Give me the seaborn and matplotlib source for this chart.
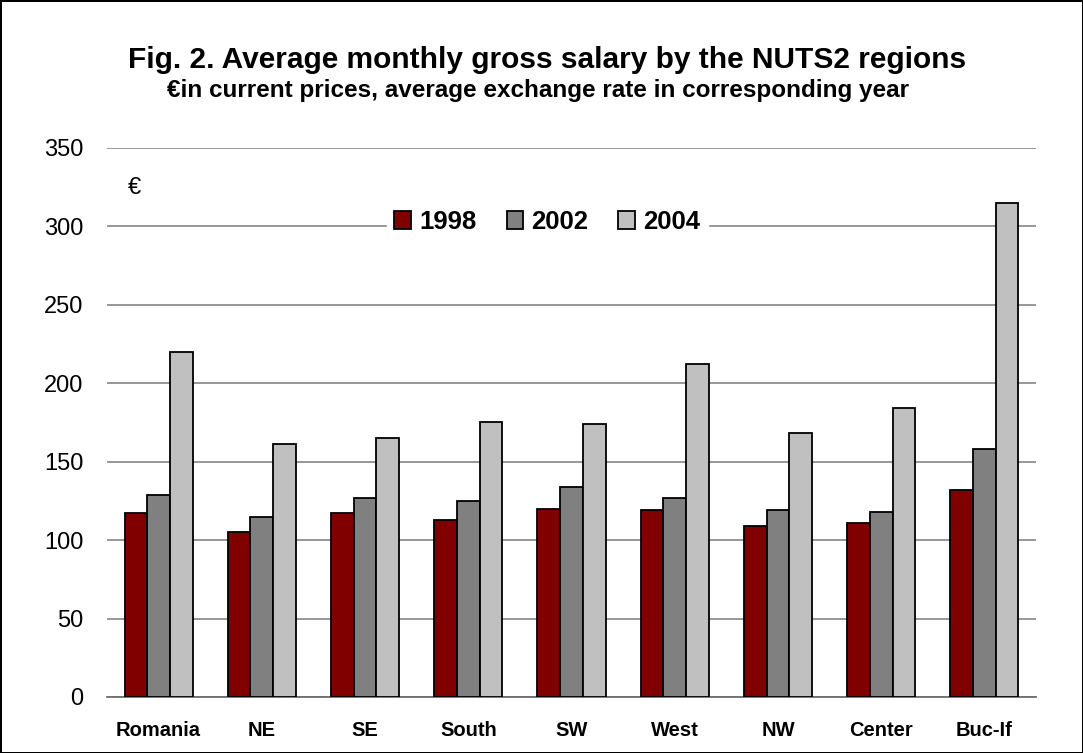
import numpy as np
import pandas as pd
import matplotlib.pyplot as plt
import seaborn as sns

# values
regions = ['Romania', 'NE', 'SE', 'South', 'SW', 'West', 'NW', 'Center', 'Buc-If']
years = ['1998', '2002', '2004']
sal_1998 = [117, 105, 117, 113, 120, 119, 109, 111, 132]
sal_2002 = [129, 115, 127, 125, 134, 127, 119, 118, 158]
sal_2004 = [220, 161, 165, 175, 174, 212, 168, 184, 315]
colors = ['#800000', '#808080', '#C0C0C0']

df = pd.DataFrame({
    'region': regions * 3,
    'year': [y for y in years for _ in regions],
    'salary': sal_1998 + sal_2002 + sal_2004,
})

sns.set_style('white')
plt.rcParams['font.family'] = ['Liberation Sans', 'DejaVu Sans']
plt.rcParams['text.color'] = 'black'
plt.rcParams['xtick.color'] = 'black'
plt.rcParams['ytick.color'] = 'black'

fig = plt.figure(figsize=(10.83, 7.53), dpi=100, linewidth=2, edgecolor='black')
ax = fig.add_axes([0.0988, 0.0744, 0.8578, 0.7291])

sns.barplot(data=df, x='region', y='salary', hue='year', palette=colors,
            saturation=1, edgecolor='black', linewidth=1.3, width=0.66,
            ax=ax, zorder=3)

ax.set_ylim(0, 350)
ax.set_xlim(-0.5, len(regions) - 0.5)
ax.set_yticks(range(0, 351, 50))
ax.yaxis.grid(True, color='#7a7a7a', linewidth=1.1)
ax.set_axisbelow(True)
for s in ['left', 'right', 'top']:
    ax.spines[s].set_visible(False)
ax.spines['bottom'].set_color('#6e6e6e')
ax.spines['bottom'].set_linewidth(1.3)
ax.set_xlabel('')
ax.set_ylabel('')
ax.tick_params(axis='y', labelsize=17, length=0, pad=17)
ax.tick_params(axis='x', which='major', length=0, pad=17)
ax.set_xticks(np.arange(-0.5, len(regions), 1), minor=True)
ax.tick_params(axis='x', which='minor', length=5, width=1.2, color='#333333', direction='out')
for lab in ax.get_xticklabels():
    lab.set_fontsize(14.5)
    lab.set_fontweight('bold')

ax.text(0.022, 0.927, '€', transform=ax.transAxes, fontsize=17, ha='left', va='center')

leg = ax.legend(loc='center', bbox_to_anchor=(0.474, 0.865), ncol=3, frameon=True,
                prop={'weight': 'bold', 'size': 18.5}, handlelength=0.66, handleheight=0.66,
                columnspacing=1.17, handletextpad=0.31, borderpad=0.3, borderaxespad=0)
leg.get_frame().set_facecolor('white')
leg.get_frame().set_edgecolor('white')
leg.get_frame().set_alpha(1)
leg.set_zorder(5)

fig.text(0.505, 0.91, 'Fig. 2. Average monthly gross salary by the NUTS2 regions',
         ha='center', va='baseline', fontsize=21.5, fontweight='bold')
fig.text(0.497, 0.871, '€in current prices, average exchange rate in corresponding year',
         ha='center', va='baseline', fontsize=17.5, fontweight='bold')

fig.savefig('out.png', dpi=100, edgecolor='black')
